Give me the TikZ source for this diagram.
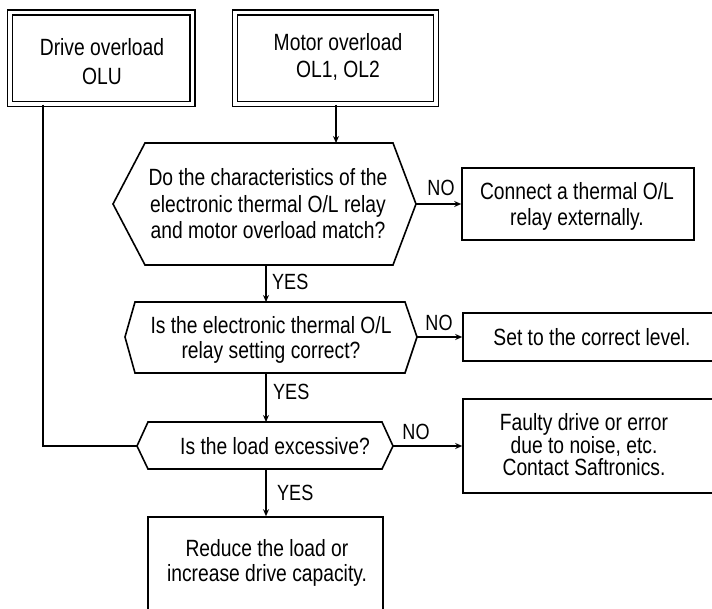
\documentclass[tikz,border=0pt]{standalone}
\usepackage{fontspec}
\setmainfont[FakeStretch=0.82]{Liberation Sans}
\usetikzlibrary{arrows.meta}
\begin{document}
\begin{tikzpicture}[x=1pt,y=-1pt,
  txt/.style={font=\fontsize{23.5}{26.5}\selectfont, align=center, inner sep=0pt},
  dblbox/.style={draw, double, double distance=3.5pt, line width=1.5pt, inner sep=0pt},
  boxnode/.style={draw, line width=1.6pt, inner sep=0pt},
  hexline/.style={line width=1.6pt, line join=miter},
  conn/.style={line width=1.3pt},
  arr/.style={conn, -{Stealth[length=7pt,width=6pt]}},
  lbl/.style={font=\fontsize{22}{24}\selectfont, inner sep=0pt}]
\useasboundingbox (0,0) rectangle (712,609);

% top boxes
\node[dblbox, minimum width=182.5pt, minimum height=91.5pt] (drive) at (101.25,58.25) {};
\node[txt, font=\fontsize{23.5}{29}\selectfont] (drivet) at (102,62) {Drive overload\\OLU};
\node[dblbox, minimum width=201pt, minimum height=91.5pt] (motor) at (335.5,58.25) {};
\node[txt, font=\fontsize{23.5}{27}\selectfont] (motort) at (338,57) {Motor overload\\OL1, OL2};

% hexagon 1
\coordinate (h1L) at (113,204);
\coordinate (h1R) at (416,204);
\coordinate (h1T) at (336,143);
\coordinate (h1B) at (266,265);
\draw[hexline] (h1L) -- (145,143) -- (393,143) -- (h1R) -- (393,265) -- (145,265) -- cycle;
\node[txt] (h1t) at (268,204) {Do the characteristics of the\\electronic thermal O/L relay\\and motor overload match?};

% hexagon 2
\coordinate (h2L) at (125,337);
\coordinate (h2R) at (417,337);
\coordinate (h2T) at (266,302);
\coordinate (h2B) at (266,373);
\draw[hexline] (h2L) -- (135,302) -- (405,302) -- (h2R) -- (405,373) -- (135,373) -- cycle;
\node[txt, font=\fontsize{23.5}{25}\selectfont] (h2t) at (271,339.5) {Is the electronic thermal O/L\\relay setting correct?};

% hexagon 3
\coordinate (h3L) at (137,446);
\coordinate (h3R) at (393,446);
\coordinate (h3T) at (266,422);
\coordinate (h3B) at (266,469);
\draw[hexline] (h3L) -- (148,422) -- (382,422) -- (h3R) -- (382,469) -- (148,469) -- cycle;
\node[txt] (h3t) at (275,446) {Is the load excessive?};

% right boxes
\node[boxnode, minimum width=232pt, minimum height=72pt] (connect) at (578,204) {};
\node[txt] (connectt) at (577,206.5) {Connect a thermal O/L\\relay externally.};
\node[boxnode, minimum width=253pt, minimum height=48pt] (set) at (589.5,337) {};
\node[txt] (sett) at (592,337) {Set to the correct level.};
\node[boxnode, minimum width=253pt, minimum height=94pt] (faulty) at (589.5,446) {};
\node[txt, font=\fontsize{23.5}{21.5}\selectfont] (faultyt) at (584,444.5) {Faulty drive or error\\due to noise, etc.\\Contact Saftronics.};

% bottom box
\node[boxnode, minimum width=235pt, minimum height=95pt] (reduce) at (265.5,564.5) {};
\node[txt, font=\fontsize{23.5}{25}\selectfont] (reducet) at (267,562.5) {Reduce the load or\\increase drive capacity.};

% connectors
\coordinate (dl) at (43,0);
\draw[conn] (drive.south -| dl) -- (dl |- h3L) -- (h3L);
\draw[arr] (motor.south -| h1T) -- (h1T);
\draw[arr] (h1B) -- (h2T);
\draw[arr] (h2B) -- (h3T);
\draw[arr] (h3B) -- (reduce.north -| h3B);
\draw[arr] (h1R) -- (connect.west |- h1R);
\draw[arr] (h2R) -- (set.west |- h2R);
\draw[arr] (h3R) -- (faulty.west |- h3R);

% labels
\node[lbl, anchor=west] (yes1) at (272,282) {YES};
\node[lbl, anchor=west] (yes2) at (273,392) {YES};
\node[lbl, anchor=west] (yes3) at (277,493) {YES};
\node[lbl] (no1) at (441,188) {NO};
\node[lbl] (no2) at (439,323) {NO};
\node[lbl] (no3) at (416,432) {NO};
\end{tikzpicture}
\end{document}
